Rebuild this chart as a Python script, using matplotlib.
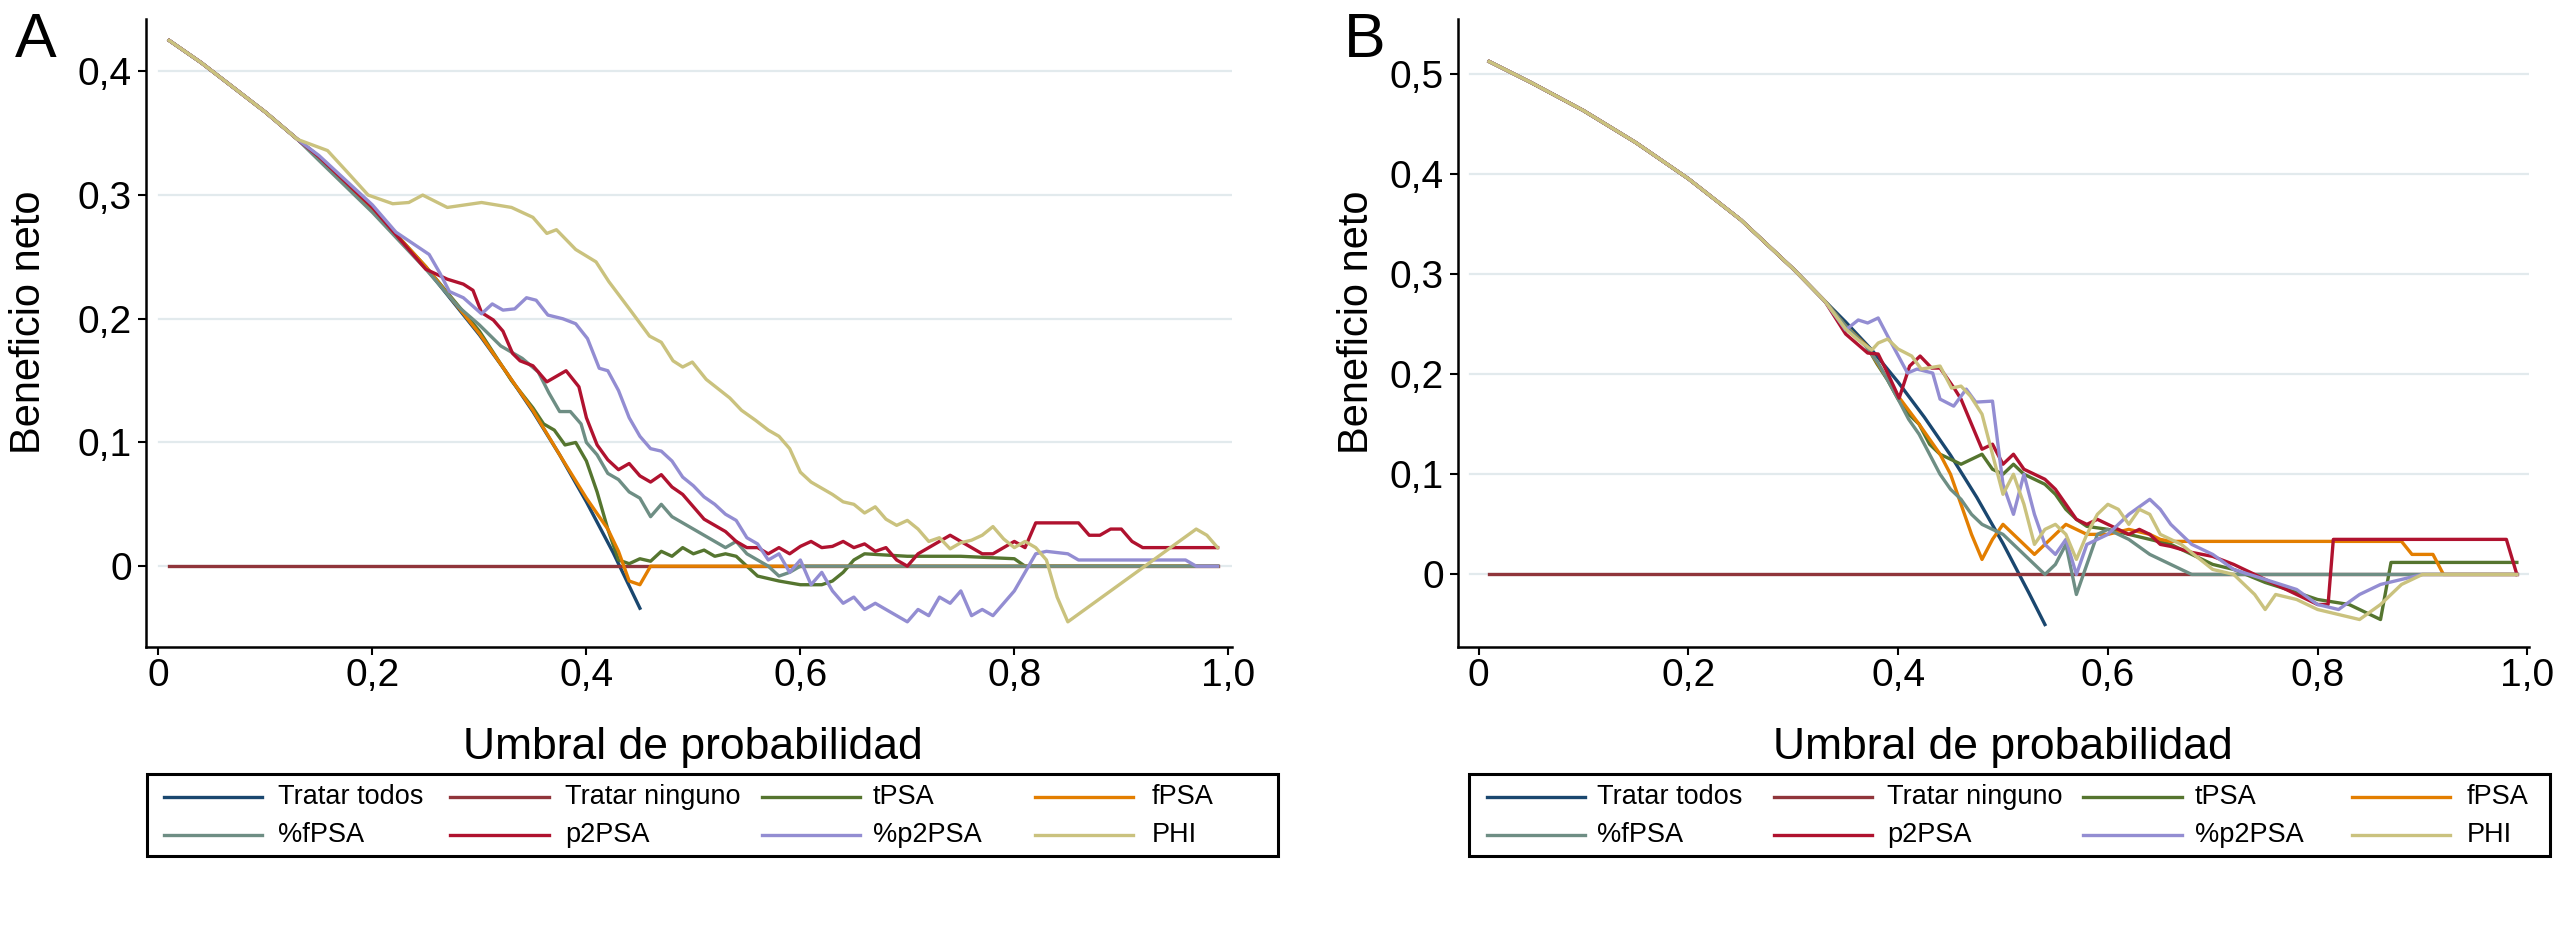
import matplotlib
matplotlib.use('Agg')
import matplotlib.pyplot as plt
from matplotlib.lines import Line2D
from matplotlib.patches import Rectangle

plt.rcParams['font.family'] = ['Liberation Sans', 'DejaVu Sans']

# ---------------- Data: panel A ----------------
a_head_t = [0.01, 0.04, 0.07, 0.10, 0.13]
a_head_v = [0.425, 0.407, 0.387, 0.367, 0.345]

a_todos_t = [0.15, 0.20, 0.25, 0.30, 0.325, 0.35, 0.375, 0.40, 0.425, 0.45]
a_todos_v = [0.331, 0.289, 0.241, 0.187, 0.157, 0.125, 0.090, 0.052, 0.011, -0.034]

a_tpsa_t = [0.15, 0.20, 0.25, 0.30, 0.33, 0.35, 0.36, 0.37, 0.38, 0.39, 0.40, 0.41, 0.42, 0.43,
            0.44, 0.45, 0.46, 0.47, 0.48, 0.49, 0.50, 0.51, 0.52, 0.53, 0.54, 0.55, 0.56, 0.57,
            0.58, 0.60, 0.62, 0.63, 0.64, 0.65, 0.66, 0.70, 0.75, 0.80, 0.81, 0.99]
a_tpsa_v = [0.331, 0.289, 0.242, 0.190, 0.150, 0.128, 0.115, 0.110, 0.098, 0.100, 0.085, 0.060,
            0.030, 0.005, 0.002, 0.006, 0.004, 0.012, 0.008, 0.015, 0.010, 0.013, 0.008, 0.010,
            0.008, 0.000, -0.008, -0.010, -0.012, -0.015, -0.015, -0.012, -0.005, 0.005, 0.010,
            0.008, 0.008, 0.006, 0.000, 0.000]

a_fpsa_t = [0.15, 0.20, 0.25, 0.30, 0.35, 0.375, 0.40, 0.42, 0.43, 0.44, 0.45, 0.46, 0.99]
a_fpsa_v = [0.331, 0.289, 0.242, 0.188, 0.126, 0.090, 0.055, 0.030, 0.012, -0.012, -0.015, 0.0, 0.0]

a_pfpsa_t = [0.15, 0.20, 0.25, 0.28, 0.30, 0.32, 0.34, 0.355, 0.365, 0.375, 0.385, 0.395, 0.40,
             0.41, 0.42, 0.43, 0.44, 0.45, 0.46, 0.47, 0.48, 0.49, 0.50, 0.51, 0.52, 0.53, 0.54,
             0.55, 0.56, 0.57, 0.58, 0.59, 0.60, 0.99]
a_pfpsa_v = [0.328, 0.286, 0.240, 0.210, 0.195, 0.178, 0.168, 0.157, 0.140, 0.125, 0.125, 0.115,
             0.100, 0.090, 0.075, 0.070, 0.060, 0.055, 0.040, 0.050, 0.040, 0.035, 0.030, 0.025,
             0.020, 0.015, 0.020, 0.010, 0.005, 0.000, -0.008, -0.005, 0.000, 0.000]

a_p2psa_t = [0.15, 0.20, 0.25, 0.27, 0.285, 0.294, 0.302, 0.313, 0.322, 0.331, 0.338, 0.35, 0.363,
             0.381, 0.393, 0.40, 0.41, 0.42, 0.43, 0.44, 0.45, 0.46, 0.47, 0.48, 0.49, 0.50, 0.51,
             0.52, 0.53, 0.54, 0.55, 0.56, 0.57, 0.58, 0.59, 0.60, 0.61, 0.62, 0.63, 0.64, 0.65,
             0.66, 0.67, 0.68, 0.69, 0.70, 0.71, 0.72, 0.73, 0.74, 0.75, 0.76, 0.77, 0.78, 0.79,
             0.80, 0.81, 0.82, 0.86, 0.87, 0.88, 0.89, 0.90, 0.91, 0.92, 0.99]
a_p2psa_v = [0.331, 0.290, 0.240, 0.232, 0.228, 0.223, 0.205, 0.199, 0.190, 0.172, 0.166, 0.162,
             0.149, 0.158, 0.145, 0.120, 0.098, 0.086, 0.078, 0.083, 0.073, 0.068, 0.074, 0.064,
             0.058, 0.048, 0.038, 0.033, 0.028, 0.020, 0.015, 0.015, 0.010, 0.015, 0.010, 0.016,
             0.020, 0.015, 0.016, 0.020, 0.015, 0.018, 0.012, 0.015, 0.005, 0.000, 0.010, 0.015,
             0.020, 0.025, 0.020, 0.015, 0.010, 0.010, 0.015, 0.020, 0.015, 0.035, 0.035, 0.025,
             0.025, 0.030, 0.030, 0.020, 0.015, 0.015]

a_pp2psa_t = [0.15, 0.20, 0.222, 0.253, 0.263, 0.272, 0.285, 0.302, 0.312, 0.322, 0.333, 0.344,
              0.353, 0.364, 0.378, 0.39, 0.401, 0.412, 0.42, 0.43, 0.44, 0.45, 0.46, 0.47, 0.48,
              0.49, 0.50, 0.51, 0.52, 0.53, 0.54, 0.55, 0.56, 0.57, 0.58, 0.59, 0.60, 0.61, 0.62,
              0.63, 0.64, 0.65, 0.66, 0.67, 0.68, 0.69, 0.70, 0.71, 0.72, 0.73, 0.74, 0.75, 0.76,
              0.77, 0.78, 0.79, 0.80, 0.81, 0.82, 0.83, 0.85, 0.86, 0.96, 0.97, 0.99]
a_pp2psa_v = [0.332, 0.292, 0.270, 0.252, 0.237, 0.222, 0.217, 0.204, 0.212, 0.207, 0.208, 0.217,
              0.215, 0.203, 0.200, 0.196, 0.184, 0.160, 0.158, 0.142, 0.120, 0.105, 0.095, 0.093,
              0.085, 0.072, 0.065, 0.056, 0.050, 0.042, 0.037, 0.023, 0.018, 0.005, 0.010, -0.005,
              0.005, -0.015, -0.005, -0.020, -0.030, -0.025, -0.035, -0.030, -0.035, -0.040,
              -0.045, -0.035, -0.040, -0.025, -0.030, -0.020, -0.040, -0.035, -0.040, -0.030,
              -0.020, -0.005, 0.010, 0.012, 0.010, 0.005, 0.005, 0.000, 0.000]

a_phi_t = [0.158, 0.175, 0.196, 0.219, 0.234, 0.247, 0.27, 0.302, 0.33, 0.35, 0.363, 0.372, 0.39,
           0.409, 0.421, 0.441, 0.459, 0.47, 0.481, 0.49, 0.499, 0.512, 0.534, 0.545, 0.558, 0.57,
           0.58, 0.59, 0.60, 0.61, 0.62, 0.63, 0.64, 0.65, 0.66, 0.67, 0.68, 0.69, 0.70, 0.71,
           0.72, 0.73, 0.74, 0.75, 0.76, 0.77, 0.78, 0.79, 0.80, 0.81, 0.82, 0.83, 0.84, 0.85,
           0.97, 0.98, 0.99]
a_phi_v = [0.336, 0.320, 0.300, 0.293, 0.294, 0.300, 0.290, 0.294, 0.290, 0.282, 0.269, 0.272,
           0.256, 0.246, 0.230, 0.207, 0.186, 0.181, 0.166, 0.161, 0.165, 0.151, 0.136, 0.126,
           0.118, 0.110, 0.105, 0.095, 0.076, 0.068, 0.063, 0.058, 0.052, 0.050, 0.043, 0.048,
           0.038, 0.033, 0.037, 0.030, 0.020, 0.023, 0.014, 0.019, 0.021, 0.025, 0.032, 0.022,
           0.015, 0.020, 0.015, 0.005, -0.025, -0.045, 0.030, 0.025, 0.015]

# ---------------- Data: panel B ----------------
b_head_t = [0.01, 0.05, 0.10, 0.15, 0.20, 0.25, 0.30, 0.33]
b_head_v = [0.512, 0.491, 0.463, 0.431, 0.395, 0.354, 0.305, 0.273]

b_todos_t = [0.35, 0.375, 0.40, 0.425, 0.45, 0.475, 0.50, 0.525, 0.54]
b_todos_v = [0.252, 0.224, 0.192, 0.157, 0.119, 0.077, 0.031, -0.019, -0.050]

b_tpsa_t = [0.35, 0.37, 0.38, 0.39, 0.40, 0.41, 0.42, 0.43, 0.44, 0.45, 0.46, 0.47, 0.48, 0.49,
            0.50, 0.51, 0.52, 0.53, 0.54, 0.55, 0.56, 0.57, 0.58, 0.60, 0.62, 0.64, 0.66, 0.68,
            0.70, 0.72, 0.75, 0.78, 0.80, 0.83, 0.86, 0.87, 0.99]
b_tpsa_v = [0.248, 0.228, 0.210, 0.194, 0.175, 0.160, 0.150, 0.130, 0.120, 0.115, 0.110, 0.115,
            0.120, 0.105, 0.100, 0.110, 0.100, 0.095, 0.090, 0.080, 0.065, 0.055, 0.048, 0.045,
            0.040, 0.035, 0.030, 0.020, 0.010, 0.005, -0.008, -0.018, -0.025, -0.030, -0.045,
            0.012, 0.012]

b_fpsa_t = [0.35, 0.37, 0.39, 0.40, 0.42, 0.44, 0.45, 0.46, 0.47, 0.48, 0.49, 0.50, 0.51, 0.52,
            0.53, 0.54, 0.55, 0.56, 0.57, 0.58, 0.60, 0.62, 0.64, 0.65, 0.66, 0.88, 0.89, 0.91,
            0.92, 0.99]
b_fpsa_v = [0.248, 0.228, 0.195, 0.178, 0.150, 0.120, 0.100, 0.070, 0.040, 0.015, 0.035, 0.050,
            0.040, 0.030, 0.020, 0.030, 0.040, 0.050, 0.045, 0.040, 0.040, 0.045, 0.040, 0.035,
            0.033, 0.033, 0.020, 0.020, 0.000, 0.000]

b_pfpsa_t = [0.35, 0.369, 0.381, 0.39, 0.40, 0.41, 0.42, 0.43, 0.44, 0.45, 0.46, 0.47, 0.48, 0.49,
             0.50, 0.51, 0.52, 0.53, 0.54, 0.55, 0.56, 0.57, 0.58, 0.59, 0.60, 0.62, 0.64, 0.66,
             0.68, 0.99]
b_pfpsa_v = [0.248, 0.228, 0.211, 0.194, 0.175, 0.155, 0.140, 0.120, 0.100, 0.085, 0.075, 0.060,
             0.050, 0.045, 0.040, 0.030, 0.020, 0.010, 0.000, 0.010, 0.030, -0.020, 0.010, 0.040,
             0.045, 0.035, 0.020, 0.010, 0.000, 0.000]

b_p2psa_t = [0.35, 0.371, 0.381, 0.39, 0.401, 0.411, 0.421, 0.432, 0.44, 0.454, 0.46, 0.47, 0.48,
             0.49, 0.50, 0.51, 0.52, 0.53, 0.54, 0.55, 0.56, 0.57, 0.58, 0.59, 0.60, 0.61, 0.62,
             0.63, 0.64, 0.65, 0.66, 0.68, 0.70, 0.72, 0.74, 0.76, 0.78, 0.80, 0.81, 0.815, 0.98,
             0.99]
b_p2psa_v = [0.240, 0.221, 0.220, 0.201, 0.176, 0.208, 0.218, 0.206, 0.206, 0.185, 0.175, 0.150,
             0.125, 0.130, 0.110, 0.120, 0.105, 0.100, 0.095, 0.085, 0.070, 0.055, 0.050, 0.055,
             0.050, 0.045, 0.040, 0.045, 0.040, 0.030, 0.028, 0.022, 0.018, 0.010, 0.000, -0.010,
             -0.020, -0.030, -0.030, 0.035, 0.035, 0.000]

b_pp2psa_t = [0.35, 0.362, 0.371, 0.381, 0.39, 0.409, 0.418, 0.433, 0.44, 0.453, 0.465, 0.474,
              0.49, 0.50, 0.51, 0.52, 0.53, 0.54, 0.55, 0.56, 0.57, 0.58, 0.60, 0.62, 0.64, 0.65,
              0.66, 0.68, 0.70, 0.72, 0.75, 0.78, 0.80, 0.82, 0.84, 0.86, 0.88, 0.90, 0.99]
b_pp2psa_v = [0.244, 0.254, 0.251, 0.256, 0.238, 0.201, 0.205, 0.201, 0.175, 0.168, 0.185, 0.172,
              0.173, 0.090, 0.060, 0.100, 0.060, 0.030, 0.020, 0.035, 0.000, 0.030, 0.040, 0.060,
              0.075, 0.065, 0.050, 0.030, 0.020, 0.005, -0.005, -0.015, -0.030, -0.035, -0.020,
              -0.010, -0.005, 0.000, 0.000]

b_phi_t = [0.35, 0.362, 0.375, 0.381, 0.39, 0.40, 0.413, 0.422, 0.44, 0.451, 0.46, 0.469, 0.48,
           0.49, 0.50, 0.51, 0.52, 0.53, 0.54, 0.55, 0.56, 0.57, 0.58, 0.59, 0.60, 0.61, 0.62,
           0.63, 0.64, 0.65, 0.67, 0.70, 0.72, 0.74, 0.75, 0.76, 0.78, 0.80, 0.82, 0.84, 0.86,
           0.88, 0.90, 0.99]
b_phi_v = [0.245, 0.234, 0.224, 0.231, 0.235, 0.225, 0.218, 0.205, 0.208, 0.186, 0.188, 0.178,
           0.160, 0.120, 0.080, 0.100, 0.070, 0.030, 0.045, 0.050, 0.040, 0.015, 0.040, 0.060,
           0.070, 0.065, 0.050, 0.065, 0.060, 0.040, 0.030, 0.005, 0.000, -0.020, -0.035, -0.020,
           -0.025, -0.035, -0.040, -0.045, -0.030, -0.010, 0.000, 0.000]

ninguno_t = [0.01, 0.99]
ninguno_v = [0.0, 0.0]

labels = ['Tratar todos', 'Tratar ninguno', 'tPSA', 'fPSA', '%fPSA', 'p2PSA', '%p2PSA', 'PHI']
colors = ['#1a476f', '#90353b', '#55752f', '#e37e00', '#6e8e84', '#b0122f', '#938dd2', '#cac27e']

xticks = [0, 0.2, 0.4, 0.6, 0.8, 1.0]
xtick_labels = ['0', '0,2', '0,4', '0,6', '0,8', '1,0']
a_yticks = [0, 0.1, 0.2, 0.3, 0.4]
a_ytick_labels = ['0', '0,1', '0,2', '0,3', '0,4']
b_yticks = [0, 0.1, 0.2, 0.3, 0.4, 0.5]
b_ytick_labels = ['0', '0,1', '0,2', '0,3', '0,4', '0,5']


def panel_series(head_t, head_v, tails):
    out = []
    for i, (t, v) in enumerate(tails):
        if i == 1:
            out.append((t, v))
        else:
            out.append((head_t + t, head_v + v))
    return out


a_series = panel_series(a_head_t, a_head_v, [
    (a_todos_t, a_todos_v), (ninguno_t, ninguno_v), (a_tpsa_t, a_tpsa_v), (a_fpsa_t, a_fpsa_v),
    (a_pfpsa_t, a_pfpsa_v), (a_p2psa_t, a_p2psa_v), (a_pp2psa_t, a_pp2psa_v), (a_phi_t, a_phi_v)])
b_series = panel_series(b_head_t, b_head_v, [
    (b_todos_t, b_todos_v), (ninguno_t, ninguno_v), (b_tpsa_t, b_tpsa_v), (b_fpsa_t, b_fpsa_v),
    (b_pfpsa_t, b_pfpsa_v), (b_p2psa_t, b_p2psa_v), (b_pp2psa_t, b_pp2psa_v), (b_phi_t, b_phi_v)])

fig = plt.figure(figsize=(25.55, 9.25), dpi=100)
grid_col = '#e2eaed'
lw = 2.4


def draw(ax, series, xlim, ylim, yticks, ylabels):
    for yt in yticks:
        ax.axhline(yt, xmin=0.012, color=grid_col, lw=1.6, zorder=0)
    for (t, v), c in zip(series, colors):
        ax.plot(t, v, color=c, lw=lw, solid_joinstyle='round')
    ax.set_xlim(*xlim)
    ax.set_ylim(*ylim)
    ax.set_xticks(xticks)
    ax.set_xticklabels(xtick_labels)
    ax.set_yticks(yticks)
    ax.set_yticklabels(ylabels)
    for s in ['top', 'right']:
        ax.spines[s].set_visible(False)
    for s in ['left', 'bottom']:
        ax.spines[s].set_linewidth(1.8)
    ax.tick_params(axis='both', length=6, width=1.5, labelsize=28)
    ax.tick_params(axis='y', pad=4)
    ax.tick_params(axis='x', pad=2)


ax_a = fig.add_axes([0.057, 0.301, 0.425, 0.678])
draw(ax_a, a_series, (-0.012, 1.003), (-0.065, 0.442), a_yticks, a_ytick_labels)
ax_b = fig.add_axes([0.5705, 0.301, 0.4195, 0.678])
draw(ax_b, b_series, (-0.02, 1.002), (-0.072, 0.554), b_yticks, b_ytick_labels)

# axis titles and panel letters
for xc, yl_x, letter_x, letter in [(0.271, 0.0115, 0.006, 'A'), (0.784, 0.531, 0.526, 'B')]:
    fig.text(xc, 0.192, 'Umbral de probabilidad', fontsize=32, ha='center', va='center')
    fig.text(yl_x, 0.652, 'Beneficio neto', fontsize=30, rotation=90, ha='center', va='center')
    fig.text(letter_x, 0.988, letter, fontsize=45, ha='left', va='top')

# legends (drawn as boxes with line samples, laid out in 2 rows x 4 columns)
W, H = 1560.0, 565.0
row_y = [1 - 487 / H, 1 - 510 / H]
legend_boxes = [
    (90, 780, [100, 275, 465, 632], [170, 345, 533, 703]),
    (897, 1557, [908, 1083, 1272, 1436], [975, 1152, 1340, 1506]),
]
for bx0, bx1, line_x, text_x in legend_boxes:
    fig.patches.append(Rectangle((bx0 / W, 1 - 523 / H), (bx1 - bx0) / W, 50 / H,
                                 transform=fig.transFigure, fill=False, edgecolor='black',
                                 lw=2.2))
    for k in range(8):
        r, col = divmod(k, 4)
        y = row_y[r]
        x0 = line_x[col] / W
        fig.lines.append(Line2D([x0, x0 + 60 / W], [y, y], transform=fig.transFigure,
                                color=colors[k], lw=lw))
        fig.text(text_x[col] / W, y, labels[k], fontsize=19.5, ha='left', va='center')

fig.savefig('out.png', dpi=100)
